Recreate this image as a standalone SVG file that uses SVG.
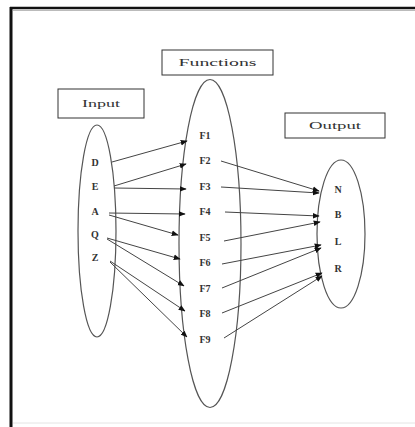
<svg xmlns="http://www.w3.org/2000/svg" width="415" height="427" viewBox="0 0 415 427">
<defs>
<marker id="ah" viewBox="0 0 10 10" refX="9" refY="5" markerWidth="7" markerHeight="7" markerUnits="userSpaceOnUse" orient="auto">
<path d="M0,1 L10,5 L0,9 z" fill="#111"/>
</marker>
<style>
.set{fill:none;stroke:#555;stroke-width:1.2}
.box{fill:#fff;stroke:#333;stroke-width:1}
.lbl{font-family:"Liberation Serif",serif;font-size:10px;fill:#333;text-anchor:middle;font-weight:bold}
.ttl{font-family:"Liberation Serif",serif;font-size:10px;fill:#333;text-anchor:middle}
.c line{stroke:#444;stroke-width:1;marker-end:url(#ah)}
</style>
</defs>
<rect x="0" y="0" width="415" height="427" fill="#fff"/>
<g id="frame">
<line x1="10" y1="8" x2="415" y2="8" stroke="#111" stroke-width="2.5"/>
<line x1="11" y1="7" x2="11" y2="427" stroke="#111" stroke-width="3"/>
<line x1="13" y1="10.5" x2="415" y2="10.5" stroke="#bbb" stroke-width="1"/>
<line x1="13" y1="423" x2="415" y2="423" stroke="#e4e4e4" stroke-width="1"/>
</g>
<g id="input">
<rect class="box" x="58" y="89" width="86" height="29"/>
<text class="ttl" x="101" y="107" textLength="38" lengthAdjust="spacingAndGlyphs">Input</text>
<ellipse class="set" cx="97" cy="231" rx="19" ry="106"/>
<text class="lbl" x="95" y="166">D</text>
<text class="lbl" x="95" y="190">E</text>
<text class="lbl" x="95" y="215">A</text>
<text class="lbl" x="95" y="238">Q</text>
<text class="lbl" x="95" y="261">Z</text>
</g>
<g id="functions">
<rect class="box" x="162" y="50" width="111" height="25"/>
<text class="ttl" x="217.5" y="66" textLength="78" lengthAdjust="spacingAndGlyphs">Functions</text>
<ellipse class="set" cx="210" cy="243.5" rx="31" ry="164"/>
<text class="lbl" x="205" y="139">F1</text>
<text class="lbl" x="205" y="164">F2</text>
<text class="lbl" x="205" y="190">F3</text>
<text class="lbl" x="205" y="215">F4</text>
<text class="lbl" x="205" y="241">F5</text>
<text class="lbl" x="205" y="266">F6</text>
<text class="lbl" x="205" y="292">F7</text>
<text class="lbl" x="205" y="317">F8</text>
<text class="lbl" x="205" y="343">F9</text>
</g>
<g id="output">
<rect class="box" x="285" y="113" width="100" height="25"/>
<text class="ttl" x="335" y="129" textLength="52" lengthAdjust="spacingAndGlyphs">Output</text>
<ellipse class="set" cx="341" cy="234" rx="24" ry="74"/>
<text class="lbl" x="338" y="193">N</text>
<text class="lbl" x="338" y="218">B</text>
<text class="lbl" x="338" y="245">L</text>
<text class="lbl" x="338" y="272">R</text>
</g>
<g id="connectors" class="c">
<line x1="112" y1="162" x2="187" y2="141"/>
<line x1="114" y1="186" x2="186" y2="164"/>
<line x1="114" y1="188" x2="186" y2="189"/>
<line x1="109" y1="213" x2="185" y2="214"/>
<line x1="109" y1="215" x2="178" y2="235"/>
<line x1="107" y1="238" x2="180" y2="259"/>
<line x1="107" y1="239" x2="184" y2="286"/>
<line x1="110" y1="261" x2="185" y2="311"/>
<line x1="110" y1="262" x2="187" y2="337"/>
<line x1="221" y1="161" x2="319" y2="191"/>
<line x1="221" y1="187" x2="319" y2="193"/>
<line x1="225" y1="212" x2="319" y2="216"/>
<line x1="224" y1="241" x2="320" y2="222"/>
<line x1="222" y1="264" x2="321" y2="245"/>
<line x1="222" y1="288" x2="321" y2="248"/>
<line x1="222" y1="313" x2="322" y2="273"/>
<line x1="224" y1="338" x2="322" y2="276"/>
</g>
</svg>
